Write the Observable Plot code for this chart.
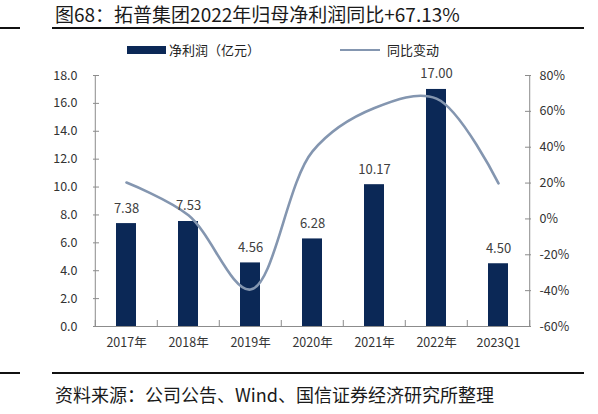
<!DOCTYPE html>
<html>
<head>
<meta charset="utf-8">
<script src="https://cdn.jsdelivr.net/npm/d3@7"></script>
<script src="https://cdn.jsdelivr.net/npm/@observablehq/plot@0.6"></script>
<style>
  html, body { margin: 0; padding: 0; background: #fff; }
  #root { position: relative; width: 598px; height: 414px; overflow: hidden; font-family: "Noto Sans CJK SC", "Noto Sans", sans-serif; color: #222; }
  .abs { position: absolute; white-space: nowrap; }
  #chart { position: absolute; left: 0; top: 60px; }
</style>
</head>
<body>
<div id="root">
  <div class="abs" style="left:55px;top:0px;font-size:19px;line-height:normal;color:#1a1a1a;">图68：拓普集团2022年归母净利润同比+67.13%</div>
  <div class="abs" style="left:52px;top:27px;width:532px;height:2px;background:#111;"></div>
  <div class="abs" style="left:0px;top:27px;width:20px;height:2px;background:#111;"></div>

  <div class="abs" style="left:127px;top:46px;width:39px;height:8px;background:#0b2856;"></div>
  <div class="abs" style="left:169px;top:40px;font-size:13px;color:#222;">净利润（亿元）</div>
  <div class="abs" style="left:340px;top:49px;width:40px;height:2px;background:#8496b0;"></div>
  <div class="abs" style="left:387px;top:40px;font-size:13px;color:#222;">同比变动</div>

  <div class="abs" style="left:0px;top:68px;font-size:10px;color:#555;">%</div>
  <div class="abs" style="left:0px;top:283px;font-size:10px;color:#555;">%</div>
  <div class="abs" style="left:0px;top:318px;font-size:10px;color:#555;">%</div>

  <div id="chart"></div>

  <div class="abs" style="left:52px;top:372px;width:532px;height:2px;background:#111;"></div>
  <div class="abs" style="left:0px;top:372px;width:20px;height:2px;background:#111;"></div>
  <div class="abs" style="left:55px;top:381px;font-size:18px;color:#1a1a1a;">资料来源：公司公告、Wind、国信证券经济研究所整理</div>
</div>
<script>
const categories = ["2017年", "2018年", "2019年", "2020年", "2021年", "2022年", "2023Q1"];
const profit = [7.38, 7.53, 4.56, 6.28, 10.17, 17.00, 4.50];
const growth = [20.3, 2.0, -39.4, 37.7, 61.9, 67.1, 19.8];
const leftTicks = [0, 2, 4, 6, 8, 10, 12, 14, 16, 18];
const rightTicks = [-60, -40, -20, 0, 20, 40, 60, 80];

const leftMax = 18;
const rMin = -60, rMax = 80;
const toLeft = g => (g - rMin) / (rMax - rMin) * leftMax;

const rows = categories.map((c, i) => ({cat: c, profit: profit[i], growth: growth[i], gy: toLeft(growth[i])}));

const W = 598, H = 300, mL = 93, mR = 68;
const step = (W - mL - mR) / categories.length;

const axisColor = "#8c8c8c";
const textColor = "#333";

const chart = Plot.plot({
  width: W,
  height: H,
  marginTop: 15,
  marginBottom: 34,
  marginLeft: mL,
  marginRight: mR,
  style: {fontFamily: "'Noto Sans CJK SC', 'Noto Sans', sans-serif", fontSize: "12.5px", color: textColor, background: "#fff"},
  x: {type: "band", domain: categories, paddingInner: 0.68, paddingOuter: 0.34},
  y: {domain: [0, leftMax]},
  marks: [
    Plot.barY(rows, {x: "cat", y: "profit", fill: "#0b2856"}),
    Plot.line(rows, {x: "cat", y: "gy", stroke: "#8496b0", strokeWidth: 2.6, curve: "catmull-rom"}),
    Plot.text(rows, {x: "cat", y: "profit", text: d => d.profit.toFixed(2), lineAnchor: "bottom", dy: -11, fontSize: 13, fill: "#404040"}),
    Plot.ruleY([0], {stroke: axisColor, strokeWidth: 1}),
    Plot.ruleX([categories[0]], {y1: 0, y2: leftMax, dx: -step / 2, stroke: axisColor}),
    Plot.ruleX([categories[categories.length - 1]], {y1: 0, y2: leftMax, dx: step / 2, stroke: axisColor}),
    Plot.ruleX(categories, {x: d => d, y1: 0, y2: 0, insetTop: -6, dx: -step / 2, stroke: axisColor}),
    Plot.ruleX([categories[categories.length - 1]], {y1: 0, y2: 0, insetTop: -6, dx: step / 2, stroke: axisColor}),
    Plot.axisX({tickSize: 0, tickPadding: 12, fontSize: 12.5, fill: textColor, label: null}),
    Plot.axisY(leftTicks, {anchor: "left", tickSize: -6, tickPadding: 22, tickFormat: d => d.toFixed(1), stroke: axisColor, fill: textColor, fontSize: 12.5, label: null}),
    Plot.axisY(rightTicks.map(toLeft), {anchor: "right", tickSize: -6, tickPadding: 15, tickFormat: (d, i) => rightTicks[i] + "%", stroke: axisColor, fill: textColor, fontSize: 12.5, label: null})
  ]
});
document.getElementById("chart").appendChild(chart);
</script>
</body>
</html>
